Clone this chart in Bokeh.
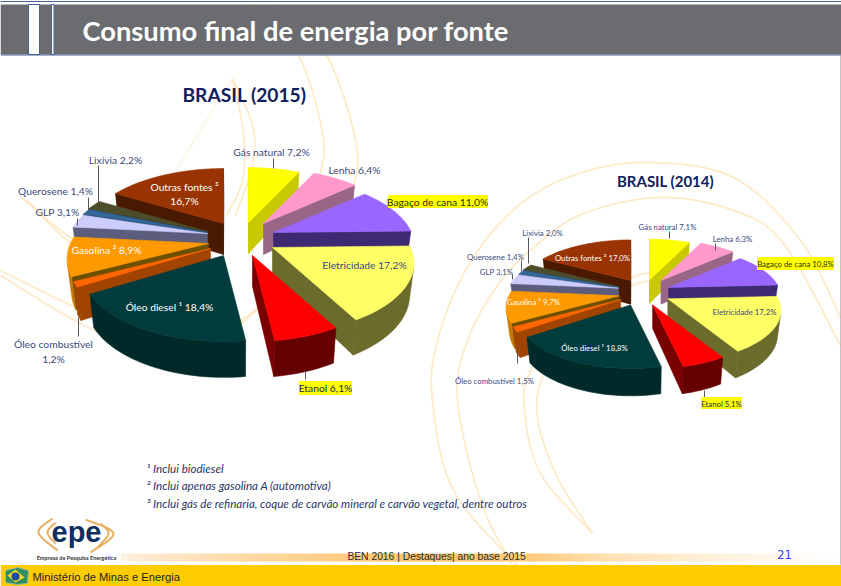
import math
import numpy as np
from bokeh.plotting import figure
from bokeh.embed import file_html
from bokeh.resources import INLINE
from bokeh.core.properties import value

# ---------- data ----------
sources = ["Gás natural", "Lenha", "Bagaço de cana", "Eletricidade", "Etanol", "Óleo diesel ¹",
           "Óleo combustível", "Gasolina ²", "GLP", "Querosene", "Lixívia", "Outras fontes ³"]
values_2015 = [7.2, 6.4, 11.0, 17.2, 6.1, 18.4, 1.2, 8.9, 3.1, 1.4, 2.2, 16.7]
values_2014 = [7.1, 6.3, 10.8, 17.2, 5.1, 18.8, 1.5, 9.7, 3.1, 1.4, 2.0, 17.0]

# ---------- styles ----------
top_colors = ["#ffff00", "#ff99cc", "#9966ff", "#ffff66", "#ff0000", "#003c3c",
              "#ff6600", "#ff9900", "#ccccff", "#336699", "#4d4d2b", "#993300"]
face_colors = ["#c9c900", "#9a6685", "#3e2a72", "#6b6b2c", "#7a0000", "#002424",
               "#a04400", "#6e5000", "#5c5c7c", "#1e3c5c", "#2b2b18", "#4a1a00"]
arc_colors = ["#c9c900", "#9a6685", "#3e2a72", "#6b6b2c", "#660000", "#002a2a",
              "#a04400", "#c87a00", "#5c5c7c", "#1e3c5c", "#2b2b18", "#4a1a00"]
draw_order = [0, 11, 1, 10, 9, 8, 2, 7, 6, 3, 4, 5]
# slice displacement from the pie centre, in px at scale 1
offsets = [(8, -18), (23, -17), (33, -8), (32, 7), (12, 15), (-17, 15),
           (-30, 8), (-32, 3), (-33, -7), (-33, -8), (-33, -9), (-17, -17)]
NAVY = "#3c4a7c"
FONT = "Lato"
BG = "#fde9c2"

W, H = 841, 586
p = figure(width=W, height=H, x_range=(0, W), y_range=(H, 0), output_backend="svg",
           toolbar_location=None, min_border=0, outline_line_color=None,
           background_fill_color="white", border_fill_color="white", margin=0)
p.axis.visible = False
p.grid.visible = False


def spline(pts, n=24):
    P = [pts[0]] + list(pts) + [pts[-1]]
    xs, ys = [], []
    for i in range(1, len(P) - 2):
        p0, p1, p2, p3 = [np.array(q, float) for q in P[i - 1:i + 3]]
        for t in np.linspace(0, 1, n, endpoint=False):
            c = 0.5 * (2 * p1 + (p2 - p0) * t + (2 * p0 - 5 * p1 + 4 * p2 - p3) * t * t + (3 * p1 - p0 - 3 * p2 + p3) * t ** 3)
            xs.append(c[0]); ys.append(c[1])
    xs.append(pts[-1][0]); ys.append(pts[-1][1])
    return xs, ys


# ---------- decorative curves ----------
curves = [
    [(840, 317), (800, 240), (733, 177), (643, 162), (567, 177), (510, 212), (465, 270), (437, 340), (432, 400), (453, 490), (517, 565)],
    [(840, 345), (783, 243), (733, 210), (660, 197), (583, 213), (533, 247), (497, 285), (467, 340), (457, 400), (480, 500), (512, 565)],
    [(592, 533), (540, 473), (524, 410), (530, 370), (570, 310), (632, 285), (650, 280)],
    [(592, 533), (557, 477), (537, 417), (545, 370), (590, 300), (632, 277), (650, 272)],
    [(232, 78), (243, 133), (242, 180), (226, 215)],
    [(232, 78), (252, 125), (252, 165), (235, 215)],
    [(252, 2), (298, 55), (322, 133), (318, 180), (290, 260), (240, 320), (150, 340), (77, 308), (0, 270)],
    [(275, 2), (326, 55), (355, 140), (352, 190), (325, 270), (270, 300), (180, 360), (90, 328), (0, 275)],
    [(20, 196), (67, 235), (110, 255)],
    [(27, 200), (67, 240), (110, 262)],
]
for c in curves:
    cx_, cy_ = spline(c)
    p.line(cx_, cy_, line_color=BG, line_width=1.6)
fx, fy = spline([(232, 78), (205, 122), (177, 167)])
p.line(fx, fy, line_color="#fff4e0", line_width=1.4)


# ---------- 3D pies ----------
def draw_pie(vals, cx, cy, scale, sx, sy):
    k, rx0, ry0, h0 = 0.22, 138 * sx, 67 * sy, 31 * scale
    total = sum(vals)
    start = 0.0
    geoms = {}
    for i, v in enumerate(vals):
        end = start + 360.0 * v / total
        ax = cx + offsets[i][0] * scale
        ay = cy + offsets[i][1] * scale

        def project(th):
            x, z = math.sin(math.radians(th)), math.cos(math.radians(th))
            s = 1 / (1 + k * z)
            return ax + rx0 * x * s, ay - ry0 * z * s, s

        def lower(px, py, s):
            return px + (cx - px) * 0.025, py + h0 * s ** 0.6

        ths = np.linspace(start, end, max(3, int((end - start) / 2) + 2))
        tops = [project(t) for t in ths]
        bots = [lower(*q) for q in tops]
        geoms[i] = (ax, ay, tops, bots)
        start = end

    for i in draw_order:
        ax, ay, tops, bots = geoms[i]
        apex_b = (ax, ay + h0)
        polys, colors = [], []

        def area(q):
            return sum(q[j][0] * q[(j + 1) % len(q)][1] - q[(j + 1) % len(q)][0] * q[j][1] for j in range(len(q)))

        # cut faces
        sq = [(ax, ay), tops[0][:2], bots[0], apex_b]
        if area(sq) < 0:
            polys.append(sq); colors.append(face_colors[i])
        eq = [(ax, ay), tops[-1][:2], bots[-1], apex_b]
        if area(eq) > 0:
            polys.append(eq); colors.append(face_colors[i])
        # visible part of the rim
        vis = [j for j in range(len(tops) - 1)
               if area([tops[j][:2], tops[j + 1][:2], bots[j + 1], bots[j]]) < 0]
        if vis:
            a, b = vis[0], vis[-1] + 1
            rim = [q[:2] for q in tops[a:b + 1]] + bots[a:b + 1][::-1]
            polys.append(rim); colors.append(arc_colors[i])
        polys.append([(ax, ay)] + [q[:2] for q in tops]); colors.append(top_colors[i])
        p.patches([[q[0] for q in pl] for pl in polys], [[q[1] for q in pl] for pl in polys],
                  fill_color=colors, line_color=colors, line_width=0.6)


draw_pie(values_2015, 240, 240, 1.0, 1.0, 1.0)
draw_pie(values_2014, 643, 293, 0.76, 0.8, 0.74)


# ---------- labels ----------
def pct(v):
    return f"{v:.1f}".replace(".", ",") + "%"


def text(x, y, s, size, color=NAVY, font=FONT, style="normal", align="center"):
    p.text([x], [y], text=[s], text_font=value(font), text_font_size=f"{size}px", text_color=color,
           text_font_style=style, text_align=align, text_baseline="middle")


def leaders(segs):
    p.segment([s[0] for s in segs], [s[1] for s in segs], [s[0] for s in segs], [s[2] for s in segs],
              line_color="#55585f", line_width=1)


def marker(x0, x1, y0, y1):
    p.quad(left=[x0], right=[x1], top=[y0], bottom=[y1], fill_color="#ffff00", line_color="#ffff00", line_width=1)


leaders([(273, 158, 168), (98, 165, 202), (88, 197, 212), (77, 218, 225), (78, 317, 336), (305, 370, 379)])
leaders([(669, 231, 238), (715, 243, 250), (528, 237, 263), (521, 260, 271), (512, 274, 279), (517, 353, 363), (704, 390, 398)])

marker(388, 487, 195, 207)
marker(299, 351, 381, 394)
marker(757, 833, 257, 269)
marker(701, 741, 397, 408)

S1, S2 = 10.3, 7.8
v = values_2015
n = sources
text(271, 151, f"{n[0]} {pct(v[0])}", S1)
text(354, 169, f"{n[1]} {pct(v[1])}", S1)
text(437, 201, f"{n[2]} {pct(v[2])}", S1, "#2a3000")
text(364, 264, f"{n[3]} {pct(v[3])}", S1)
text(325, 387, f"{n[4]} {pct(v[4])}", S1, "#1c2a50")
text(169, 306, f"{n[5]} {pct(v[5])}", S1, "white")
text(53, 343, n[6], S1)
text(53, 358, pct(v[6]), S1)
text(106, 249, f"{n[7]} {pct(v[7])}", S1, "white")
text(57, 211, f"{n[8]} {pct(v[8])}", S1)
text(55, 190, f"{n[9]} {pct(v[9])}", S1)
text(115, 159, f"{n[10]} {pct(v[10])}", S1)
text(184, 186, n[11], S1, "white")
text(184, 200, pct(v[11]), S1, "white")

v = values_2014
text(667, 226, f"{n[0]} {pct(v[0])}", S2)
text(732, 238, f"{n[1]} {pct(v[1])}", S2)
text(795, 263, f"{n[2]} {pct(v[2])}", S2, "#2a3000")
text(744, 311, f"{n[3]} {pct(v[3])}", S2)
text(721, 403, f"{n[4]} {pct(v[4])}", S2, "#1c2a50")
text(594, 347, f"{n[5]} {pct(v[5])}", S2, "white")
text(494, 380, f"{n[6]} {pct(v[6])}", S2)
text(533, 301, f"{n[7]} {pct(v[7])}", S2, "white")
text(496, 271, f"{n[8]} {pct(v[8])}", S2)
text(495, 256, f"{n[9]} {pct(v[9])}", S2)
text(542, 232, f"{n[10]} {pct(v[10])}", S2)
text(592, 257, f"{n[11]} {pct(v[11])}", S2, "white")

text(244, 94, "BRASIL (2015)", 19.2, "#10205e", style="bold")
text(665, 180, "BRASIL (2014)", 15, "#10205e", style="bold")

# ---------- footnotes ----------
FN = "#2a3668"
text(146, 468, "¹ Inclui biodiesel", 11.6, FN, style="italic", align="left")
text(146, 485, "² Inclui apenas gasolina A (automotiva)", 11.6, FN, style="italic", align="left")
text(146, 503, "³ Inclui gás de refinaria, coque de carvão mineral e carvão vegetal, dentre outros", 11.6, FN, style="italic", align="left")

# ---------- banner ----------
p.quad(left=[0], right=[W], top=[0], bottom=[3.5], fill_color="white", line_color=None)
p.quad(left=[0], right=[W], top=[0.5], bottom=[1.5], fill_color="#4a6098", line_color=None)
p.quad(left=[0], right=[W], top=[4], bottom=[54], fill_color="#6b6c70", line_color=None)
p.quad(left=[0], right=[W], top=[54], bottom=[55], fill_color="#4a6098", line_color=None)
p.quad(left=[28, 51], right=[39, 53.5], top=[4, 4], bottom=[54, 54], fill_color="white", line_color="#4a6098", line_width=1)
text(82, 30, "Consumo final de energia por fonte", 27.3, "white", style="bold", align="left")

# ---------- footer ----------
stops_x = [115, 130, 250, 420, 530, 600, 700, 830]
stops_c = [(255, 250, 240), (253, 236, 215), (254, 216, 160), (255, 196, 104), (255, 203, 125), (255, 224, 176), (255, 240, 216), (255, 255, 255)]
edges = np.arange(115, 831, 6)
cols = []
for e in edges:
    rgb = [int(np.interp(e, stops_x, [c[j] for c in stops_c])) for j in range(3)]
    cols.append("#%02x%02x%02x" % tuple(rgb))
p.quad(left=edges, right=edges + 6.5, top=[553] * len(edges), bottom=[561] * len(edges), fill_color=cols, line_color=None)
p.quad(left=[0], right=[W], top=[564.5], bottom=[H], fill_color="#ffcc00", line_color=None)
p.quad(left=[34], right=[120], top=[552], bottom=[564], fill_color="white", line_color=None)
p.line([840.5, 840.5], [55, 564], line_color="#8a8a8a", line_width=1)

text(436, 556, "BEN 2016 | Destaques| ano base 2015", 10.3, "#2b2b2b", font="Liberation Sans", align="center")
text(784, 554, "21", 11.5, "#3a3af0", font="DejaVu Sans")
text(32, 576, "Ministério de Minas e Energia", 11.2, "#222222", font="Liberation Sans", align="left")

# flag
p.patch([5, 17, 28, 27, 16, 5], [570, 567, 570, 583, 584, 582], fill_color="#2f8f5f", line_color="#9ab8a0", line_width=1)
p.patch([7, 15, 24, 15], [575, 569, 577, 582], fill_color="#f3d62a", line_color=None)
p.scatter([15], [576], size=8, marker="circle", fill_color="#1f4f9c", line_color=None)

# epe logo
swoosh = [
    [(52, 518), (38, 532), (57, 550)], [(55, 522), (47, 532), (55, 543)],
    [(85, 519), (113, 533), (90, 552)], [(100, 523), (108, 533), (97, 547)],
]
for s in swoosh:
    sx_, sy_ = spline(s)
    p.line(sx_, sy_, line_color="#e6ae5e", line_width=2)
text(76, 531, "epe", 29, "#12305c", font="Liberation Sans", style="bold")
text(76, 557, "Empresa de Pesquisa Energética", 5.6, "#333333", font="Lato", style="bold")

open("out.html", "w").write(file_html(p, INLINE))
